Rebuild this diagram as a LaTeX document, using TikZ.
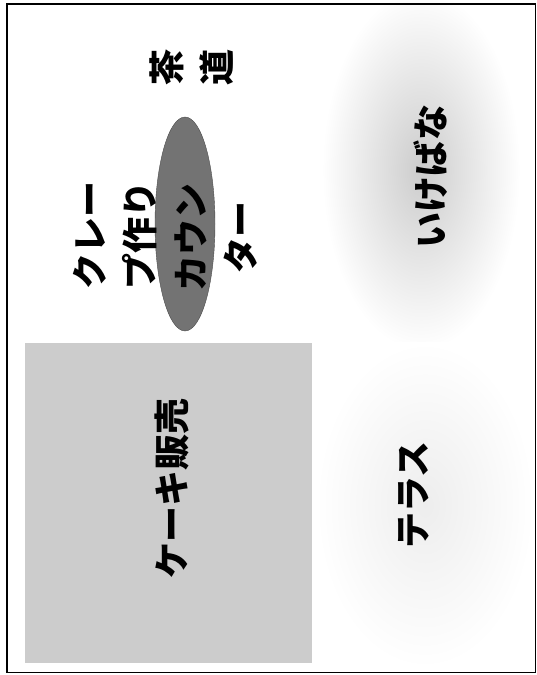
\documentclass[tikz,border=0pt]{standalone}
\usepackage{fontspec}
\newfontfamily\jpfont{Noto Sans CJK JP}
\usetikzlibrary{shapes.geometric}

\begin{document}
\begin{tikzpicture}
[x=1pt, y=-1pt, roomtext/.style={font=\jpfont\bfseries\fontsize{36}{50}\selectfont, rotate=90, align=center, inner sep=0}, booth/.style={ellipse, draw=black!70, fill=black!55, inner sep=0}]
\useasboundingbox (0,0) rectangle (537,675);
\shade [inner color=black!20, outer color=white] (322,-10) rectangle (520,350);
\shade [inner color=black!7, outer color=white] (316,342) rectangle (534,668);
\fill [black!20] (25,343) rectangle (312,663);
\node (counter) [booth, minimum width=60, minimum height=214] at (185,224) {};
\node (sado) [roomtext] at (192,67) {茶\\道};
\node (crepe) [roomtext] at (115,235) {クレー\\プ作り};
\node (countertext) [roomtext] at (216,237) {カウン\\ター};
\node (ikebana) [roomtext] at (431,176) {いけばな};
\node (cake) [roomtext] at (172,488) {ケーキ販売};
\node (terrace) [roomtext] at (414,495) {テラス};
\draw [line width=1.5] (7,4) rectangle (535.5,672.5);
\end{tikzpicture}
\end{document}
